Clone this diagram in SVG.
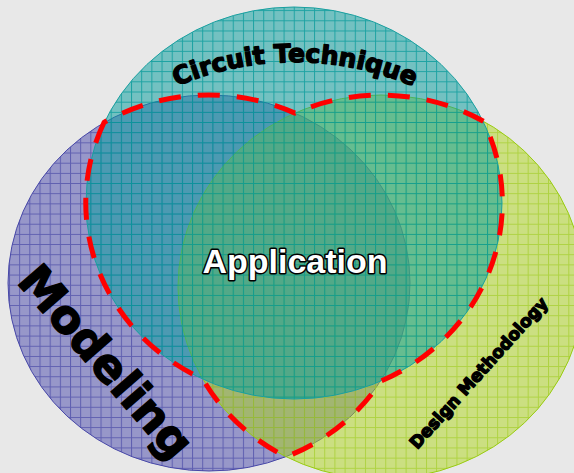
<svg xmlns="http://www.w3.org/2000/svg" width="574" height="473" viewBox="0 0 574 473">
<defs>
<style>
.lbl{font-family:"DejaVu Sans","Liberation Sans",sans-serif;font-weight:bold;fill:#000;stroke:#000;stroke-width:1.4;stroke-linejoin:round}
.app{font-family:"Liberation Sans",Arial,sans-serif;font-weight:bold;font-size:34px;fill:#fff;stroke:#000;stroke-width:3;paint-order:stroke;stroke-linejoin:round}
.heart{fill:none;stroke:#ff0000;stroke-width:5;stroke-dasharray:22 17}
</style>
<pattern id="gP" width="10.17" height="10.17" patternUnits="userSpaceOnUse" x="9" y="0">
<rect width="10.17" height="10.17" fill="#4646aa" fill-opacity="0.5"/>
<path d="M0 0.5H10.17M0.5 0V10.17" stroke="#3a3aa0" stroke-opacity="0.6" stroke-width="1"/>
</pattern>
<pattern id="gG" width="10.17" height="10.17" patternUnits="userSpaceOnUse" x="9" y="0">
<rect width="10.17" height="10.17" fill="#aed61a" fill-opacity="0.5"/>
<path d="M0 0.5H10.17M0.5 0V10.17" stroke="#a0cc20" stroke-opacity="0.65" stroke-width="1"/>
</pattern>
<pattern id="gT" width="10.17" height="10.17" patternUnits="userSpaceOnUse" x="9" y="0">
<rect width="10.17" height="10.17" fill="#089e9e" fill-opacity="0.52"/>
<path d="M0 0.5H10.17M0.5 0V10.17" stroke="#009696" stroke-opacity="0.75" stroke-width="1"/>
</pattern>
<path id="arcCT" d="M150 99.4 A300 300 0 0 1 440 99.4"/>
</defs>
<rect width="574" height="473" fill="#e8e8e8"/>
<g id="modeling">
<ellipse cx="209" cy="283" rx="201" ry="188" fill="url(#gP)" stroke="#4848a8" stroke-width="1"/>
</g>
<g id="design-methodology">
<ellipse cx="381" cy="287" rx="203" ry="192" fill="url(#gG)" stroke="#99cc11" stroke-width="1"/>
</g>
<g id="circuit-technique">
<ellipse cx="294" cy="203" rx="208" ry="196" fill="url(#gT)" stroke="#1aa0a0" stroke-width="1"/>
</g>
<g id="application-outline">
<path class="heart" d="M104 122.5 A208 196 0 0 0 202.7 379 A203 192 0 0 0 286 456.8 A201 188 0 0 0 380.8 381.2 A208 196 0 0 0 483.5 121.3 A203 192 0 0 0 295 113.1 A201 188 0 0 0 104 122.5 Z"/>
</g>
<g id="labels">
<text class="lbl" font-size="25"><textPath href="#arcCT" startOffset="50%" text-anchor="middle">Circuit Technique</textPath></text>
<text class="lbl" font-size="46" text-anchor="middle" transform="translate(94 372) rotate(49)">Modeling</text>
<text class="lbl" font-size="17" text-anchor="middle" transform="translate(483 377) rotate(-48)">Design Methodology</text>
<text class="app" x="295" y="273" text-anchor="middle">Application</text>
</g>
</svg>
